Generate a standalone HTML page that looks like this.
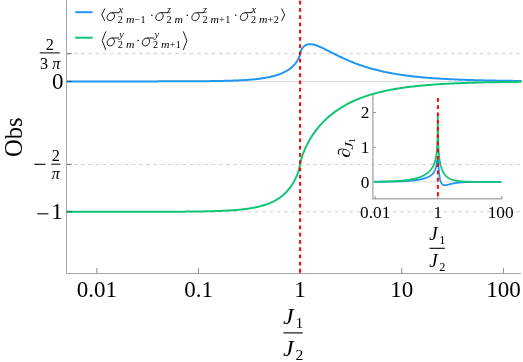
<!DOCTYPE html>
<html><head><meta charset="utf-8"><title>plot</title>
<style>
html,body{margin:0;padding:0;background:#fff;}
body{width:523px;height:362px;overflow:hidden;font-family:"Liberation Serif",serif;}
svg{display:block;will-change:transform;}
text{font-family:"Liberation Serif",serif;fill:#000;}
.i{font-style:italic;}
</style></head><body>
<svg width="523" height="362" viewBox="0 0 523 362">
<rect width="523" height="362" fill="#fff"/>

<line x1="66.5" y1="81.5" x2="520.8" y2="81.5" stroke="#dcdcdc" stroke-width="1"/>
<line x1="66.5" y1="53.7" x2="520.8" y2="53.7" stroke="#cfcfcf" stroke-width="1" stroke-dasharray="3.7 3.553"/>
<line x1="66.5" y1="164.4" x2="520.8" y2="164.4" stroke="#cfcfcf" stroke-width="1" stroke-dasharray="3.7 3.553"/>
<line x1="66.5" y1="211.8" x2="520.8" y2="211.8" stroke="#cfcfcf" stroke-width="1" stroke-dasharray="3.7 3.553"/>
<line x1="373.3" y1="181.9" x2="502" y2="181.9" stroke="#dcdcdc" stroke-width="1"/>
<path d="M66.5,0 V273.5 H520.8" fill="none" stroke="#a6a6a6" stroke-width="1"/>
<line x1="96.9" y1="273.5" x2="96.9" y2="268" stroke="#8c8c8c" stroke-width="1"/>
<line x1="198.5" y1="273.5" x2="198.5" y2="268" stroke="#8c8c8c" stroke-width="1"/>
<line x1="300.1" y1="273.5" x2="300.1" y2="268" stroke="#8c8c8c" stroke-width="1"/>
<line x1="401.7" y1="273.5" x2="401.7" y2="268" stroke="#8c8c8c" stroke-width="1"/>
<line x1="503.4" y1="273.5" x2="503.4" y2="268" stroke="#8c8c8c" stroke-width="1"/>
<path d="M372.9,94.8 V198.8 H502.2" fill="none" stroke="#b0b0b0" stroke-width="1.5"/>
<line x1="373.3" y1="112.5" x2="375.8" y2="112.5" stroke="#8c8c8c" stroke-width="1"/>
<line x1="373.3" y1="147.3" x2="375.8" y2="147.3" stroke="#8c8c8c" stroke-width="1"/>
<line x1="373.3" y1="182.0" x2="375.8" y2="182.0" stroke="#8c8c8c" stroke-width="1"/>
<line x1="375.2" y1="199" x2="375.2" y2="196.2" stroke="#8c8c8c" stroke-width="1"/>
<line x1="437.8" y1="199" x2="437.8" y2="196.2" stroke="#8c8c8c" stroke-width="1"/>
<line x1="501.8" y1="199" x2="501.8" y2="196.2" stroke="#8c8c8c" stroke-width="1"/>
<path d="M66.50,81.40 L67.49,81.40 L68.48,81.40 L69.47,81.40 L70.47,81.40 L71.46,81.40 L72.45,81.40 L73.44,81.40 L74.43,81.40 L75.42,81.40 L76.42,81.40 L77.41,81.40 L78.40,81.40 L79.39,81.40 L80.38,81.40 L81.37,81.40 L82.36,81.40 L83.36,81.40 L84.35,81.40 L85.34,81.40 L86.33,81.40 L87.32,81.40 L88.31,81.40 L89.30,81.40 L90.30,81.40 L91.29,81.40 L92.28,81.40 L93.27,81.40 L94.26,81.40 L95.25,81.40 L96.25,81.40 L97.24,81.40 L98.23,81.40 L99.22,81.40 L100.21,81.40 L101.20,81.40 L102.19,81.40 L103.19,81.40 L104.18,81.40 L105.17,81.40 L106.16,81.40 L107.15,81.40 L108.14,81.40 L109.13,81.40 L110.13,81.40 L111.12,81.40 L112.11,81.40 L113.10,81.40 L114.09,81.40 L115.08,81.40 L116.08,81.40 L117.07,81.40 L118.06,81.40 L119.05,81.40 L120.04,81.40 L121.03,81.40 L122.02,81.39 L123.02,81.39 L124.01,81.39 L125.00,81.39 L125.99,81.39 L126.98,81.39 L127.97,81.39 L128.96,81.39 L129.96,81.39 L130.95,81.39 L131.94,81.39 L132.93,81.39 L133.92,81.39 L134.91,81.39 L135.91,81.39 L136.90,81.39 L137.89,81.39 L138.88,81.39 L139.87,81.39 L140.86,81.39 L141.85,81.39 L142.85,81.39 L143.84,81.39 L144.83,81.39 L145.82,81.39 L146.81,81.38 L147.80,81.38 L148.79,81.38 L149.79,81.38 L150.78,81.38 L151.77,81.38 L152.76,81.38 L153.75,81.38 L154.74,81.38 L155.74,81.38 L156.73,81.38 L157.72,81.37 L158.71,81.37 L159.70,81.37 L160.69,81.37 L161.68,81.37 L162.68,81.37 L163.67,81.37 L164.66,81.36 L165.65,81.36 L166.64,81.36 L167.63,81.36 L168.62,81.36 L169.62,81.36 L170.61,81.35 L171.60,81.35 L172.59,81.35 L173.58,81.35 L174.57,81.34 L175.57,81.34 L176.56,81.34 L177.55,81.34 L178.54,81.33 L179.53,81.33 L180.52,81.33 L181.51,81.32 L182.51,81.32 L183.50,81.32 L184.49,81.31 L185.48,81.31 L186.47,81.31 L187.46,81.30 L188.45,81.30 L189.45,81.29 L190.44,81.29 L191.43,81.28 L192.42,81.28 L193.41,81.27 L194.40,81.26 L195.40,81.26 L196.39,81.25 L197.38,81.24 L198.37,81.24 L199.36,81.23 L200.35,81.22 L201.34,81.21 L202.34,81.21 L203.33,81.20 L204.32,81.19 L205.31,81.18 L206.30,81.17 L207.29,81.16 L208.28,81.15 L209.28,81.13 L210.27,81.12 L211.26,81.11 L212.25,81.09 L213.24,81.08 L214.23,81.07 L215.23,81.05 L216.22,81.03 L217.21,81.02 L218.20,81.00 L219.19,80.98 L220.18,80.96 L221.17,80.94 L222.17,80.92 L223.16,80.90 L224.15,80.87 L225.14,80.85 L226.13,80.82 L227.12,80.80 L228.12,80.77 L229.11,80.74 L230.10,80.71 L231.09,80.68 L232.08,80.64 L233.07,80.61 L234.06,80.57 L235.06,80.53 L236.05,80.49 L237.04,80.45 L238.03,80.41 L239.02,80.36 L240.01,80.31 L241.00,80.26 L242.00,80.21 L242.99,80.15 L243.98,80.09 L244.97,80.03 L245.96,79.97 L246.95,79.90 L247.95,79.83 L248.94,79.76 L249.93,79.68 L250.92,79.60 L251.91,79.51 L252.90,79.42 L253.89,79.33 L254.89,79.23 L255.88,79.12 L256.87,79.02 L257.86,78.90 L258.85,78.78 L259.84,78.66 L260.83,78.52 L261.83,78.39 L262.82,78.24 L263.81,78.09 L264.80,77.93 L265.79,77.76 L266.78,77.58 L267.78,77.39 L268.77,77.19 L269.76,76.98 L270.75,76.76 L271.74,76.53 L272.73,76.29 L273.72,76.03 L274.72,75.76 L275.71,75.47 L276.70,75.17 L277.69,74.85 L278.68,74.51 L279.67,74.15 L280.66,73.76 L281.66,73.36 L282.65,72.93 L283.64,72.47 L284.63,71.98 L285.62,71.46 L286.61,70.90 L287.61,70.30 L288.60,69.65 L289.59,68.96 L289.94,68.70 L290.58,68.21 L290.68,68.13 L291.39,67.55 L291.57,67.40 L292.06,66.97 L292.56,66.51 L292.69,66.39 L293.29,65.80 L293.55,65.54 L293.86,65.22 L294.40,64.63 L294.55,64.46 L294.90,64.05 L295.37,63.47 L295.54,63.26 L295.81,62.90 L296.23,62.34 L296.53,61.90 L296.62,61.78 L296.98,61.23 L297.31,60.69 L297.52,60.34 L297.62,60.17 L297.91,59.65 L298.17,59.15 L298.41,58.67 L298.51,58.46 L298.63,58.21 L298.83,57.76 L299.01,57.33 L299.17,56.93 L299.32,56.54 L299.45,56.18 L299.50,56.03 L299.56,55.84 L299.66,55.53 L299.75,55.24 L299.83,54.98 L299.89,54.74 L299.94,54.53 L299.98,54.35 L300.02,54.19 L300.05,54.06 L300.07,53.95 L300.08,53.87 L300.09,53.81 L300.10,53.76 L300.10,53.74 L300.10,53.73 L300.10,53.73 L300.10,53.73 L300.10,53.72 L300.10,53.69 L300.11,53.65 L300.12,53.59 L300.13,53.51 L300.15,53.40 L300.18,53.27 L300.22,53.11 L300.26,52.93 L300.31,52.72 L300.37,52.49 L300.45,52.23 L300.49,52.08 L300.54,51.95 L300.64,51.65 L300.75,51.33 L300.88,50.99 L301.03,50.64 L301.19,50.27 L301.37,49.89 L301.49,49.65 L301.57,49.49 L301.79,49.09 L302.03,48.69 L302.29,48.29 L302.48,48.03 L302.58,47.89 L302.89,47.49 L303.22,47.10 L303.47,46.84 L303.58,46.72 L303.97,46.36 L304.39,46.01 L304.46,45.95 L304.83,45.69 L305.30,45.39 L305.45,45.30 L305.80,45.11 L306.34,44.87 L306.44,44.83 L306.91,44.66 L307.44,44.50 L307.51,44.48 L308.14,44.35 L308.43,44.30 L308.81,44.25 L309.42,44.21 L309.52,44.20 L310.26,44.20 L310.41,44.20 L311.40,44.27 L312.39,44.40 L313.38,44.59 L314.38,44.83 L315.37,45.11 L316.36,45.43 L317.35,45.78 L318.34,46.16 L319.33,46.56 L320.32,46.99 L321.32,47.43 L322.31,47.88 L323.30,48.35 L324.29,48.83 L325.28,49.31 L326.27,49.80 L327.27,50.30 L328.26,50.80 L329.25,51.30 L330.24,51.81 L331.23,52.31 L332.22,52.82 L333.21,53.32 L334.21,53.82 L335.20,54.32 L336.19,54.82 L337.18,55.31 L338.17,55.80 L339.16,56.28 L340.15,56.76 L341.15,57.23 L342.14,57.70 L343.13,58.16 L344.12,58.62 L345.11,59.07 L346.10,59.52 L347.10,59.95 L348.09,60.38 L349.08,60.81 L350.07,61.23 L351.06,61.64 L352.05,62.04 L353.04,62.44 L354.04,62.83 L355.03,63.22 L356.02,63.60 L357.01,63.97 L358.00,64.33 L358.99,64.69 L359.98,65.04 L360.98,65.39 L361.97,65.73 L362.96,66.06 L363.95,66.38 L364.94,66.70 L365.93,67.02 L366.93,67.32 L367.92,67.63 L368.91,67.92 L369.90,68.21 L370.89,68.49 L371.88,68.77 L372.87,69.04 L373.87,69.31 L374.86,69.57 L375.85,69.83 L376.84,70.08 L377.83,70.33 L378.82,70.57 L379.82,70.80 L380.81,71.03 L381.80,71.26 L382.79,71.48 L383.78,71.70 L384.77,71.91 L385.76,72.12 L386.76,72.32 L387.75,72.52 L388.74,72.71 L389.73,72.90 L390.72,73.09 L391.71,73.27 L392.70,73.45 L393.70,73.63 L394.69,73.80 L395.68,73.96 L396.67,74.13 L397.66,74.29 L398.65,74.44 L399.65,74.60 L400.64,74.75 L401.63,74.89 L402.62,75.04 L403.61,75.18 L404.60,75.32 L405.59,75.45 L406.59,75.58 L407.58,75.71 L408.57,75.84 L409.56,75.96 L410.55,76.08 L411.54,76.20 L412.53,76.31 L413.53,76.42 L414.52,76.53 L415.51,76.64 L416.50,76.75 L417.49,76.85 L418.48,76.95 L419.48,77.05 L420.47,77.15 L421.46,77.24 L422.45,77.33 L423.44,77.42 L424.43,77.51 L425.42,77.60 L426.42,77.68 L427.41,77.76 L428.40,77.84 L429.39,77.92 L430.38,78.00 L431.37,78.08 L432.36,78.15 L433.36,78.22 L434.35,78.29 L435.34,78.36 L436.33,78.43 L437.32,78.49 L438.31,78.56 L439.31,78.62 L440.30,78.68 L441.29,78.74 L442.28,78.80 L443.27,78.86 L444.26,78.92 L445.25,78.97 L446.25,79.03 L447.24,79.08 L448.23,79.13 L449.22,79.18 L450.21,79.23 L451.20,79.28 L452.19,79.32 L453.19,79.37 L454.18,79.42 L455.17,79.46 L456.16,79.50 L457.15,79.55 L458.14,79.59 L459.14,79.63 L460.13,79.67 L461.12,79.70 L462.11,79.74 L463.10,79.78 L464.09,79.81 L465.08,79.85 L466.08,79.88 L467.07,79.92 L468.06,79.95 L469.05,79.98 L470.04,80.01 L471.03,80.05 L472.02,80.08 L473.02,80.11 L474.01,80.13 L475.00,80.16 L475.99,80.19 L476.98,80.22 L477.97,80.24 L478.97,80.27 L479.96,80.29 L480.95,80.32 L481.94,80.34 L482.93,80.37 L483.92,80.39 L484.91,80.41 L485.91,80.43 L486.90,80.45 L487.89,80.48 L488.88,80.50 L489.87,80.52 L490.86,80.54 L491.85,80.55 L492.85,80.57 L493.84,80.59 L494.83,80.61 L495.82,80.63 L496.81,80.64 L497.80,80.66 L498.80,80.68 L499.79,80.69 L500.78,80.71 L501.77,80.73 L502.76,80.74 L503.75,80.75 L504.74,80.77 L505.74,80.78 L506.73,80.80 L507.72,80.81 L508.71,80.82 L509.70,80.84 L510.69,80.85 L511.68,80.86 L512.68,80.87 L513.67,80.88 L514.66,80.90 L515.65,80.91 L516.64,80.92 L517.63,80.93 L518.63,80.94 L519.62,80.95 L520.61,80.96 L521.60,80.97" fill="none" stroke="#2196f3" stroke-width="2" stroke-linejoin="round"/>
<path d="M66.50,211.80 L67.49,211.80 L68.48,211.80 L69.47,211.80 L70.47,211.80 L71.46,211.80 L72.45,211.80 L73.44,211.80 L74.43,211.80 L75.42,211.80 L76.42,211.80 L77.41,211.80 L78.40,211.80 L79.39,211.80 L80.38,211.80 L81.37,211.80 L82.36,211.80 L83.36,211.80 L84.35,211.80 L85.34,211.80 L86.33,211.80 L87.32,211.80 L88.31,211.80 L89.30,211.80 L90.30,211.80 L91.29,211.80 L92.28,211.80 L93.27,211.80 L94.26,211.80 L95.25,211.80 L96.25,211.80 L97.24,211.80 L98.23,211.80 L99.22,211.80 L100.21,211.80 L101.20,211.80 L102.19,211.80 L103.19,211.80 L104.18,211.80 L105.17,211.80 L106.16,211.80 L107.15,211.79 L108.14,211.79 L109.13,211.79 L110.13,211.79 L111.12,211.79 L112.11,211.79 L113.10,211.79 L114.09,211.79 L115.08,211.79 L116.08,211.79 L117.07,211.79 L118.06,211.79 L119.05,211.79 L120.04,211.79 L121.03,211.79 L122.02,211.79 L123.02,211.79 L124.01,211.79 L125.00,211.79 L125.99,211.79 L126.98,211.79 L127.97,211.79 L128.96,211.79 L129.96,211.79 L130.95,211.78 L131.94,211.78 L132.93,211.78 L133.92,211.78 L134.91,211.78 L135.91,211.78 L136.90,211.78 L137.89,211.78 L138.88,211.78 L139.87,211.78 L140.86,211.78 L141.85,211.77 L142.85,211.77 L143.84,211.77 L144.83,211.77 L145.82,211.77 L146.81,211.77 L147.80,211.77 L148.79,211.77 L149.79,211.76 L150.78,211.76 L151.77,211.76 L152.76,211.76 L153.75,211.76 L154.74,211.76 L155.74,211.75 L156.73,211.75 L157.72,211.75 L158.71,211.75 L159.70,211.74 L160.69,211.74 L161.68,211.74 L162.68,211.74 L163.67,211.73 L164.66,211.73 L165.65,211.73 L166.64,211.72 L167.63,211.72 L168.62,211.72 L169.62,211.71 L170.61,211.71 L171.60,211.70 L172.59,211.70 L173.58,211.69 L174.57,211.69 L175.57,211.68 L176.56,211.68 L177.55,211.67 L178.54,211.67 L179.53,211.66 L180.52,211.66 L181.51,211.65 L182.51,211.64 L183.50,211.63 L184.49,211.63 L185.48,211.62 L186.47,211.61 L187.46,211.60 L188.45,211.59 L189.45,211.58 L190.44,211.57 L191.43,211.56 L192.42,211.55 L193.41,211.54 L194.40,211.53 L195.40,211.52 L196.39,211.50 L197.38,211.49 L198.37,211.48 L199.36,211.46 L200.35,211.44 L201.34,211.43 L202.34,211.41 L203.33,211.39 L204.32,211.37 L205.31,211.35 L206.30,211.33 L207.29,211.31 L208.28,211.29 L209.28,211.27 L210.27,211.24 L211.26,211.22 L212.25,211.19 L213.24,211.16 L214.23,211.13 L215.23,211.10 L216.22,211.07 L217.21,211.04 L218.20,211.00 L219.19,210.96 L220.18,210.92 L221.17,210.88 L222.17,210.84 L223.16,210.80 L224.15,210.75 L225.14,210.70 L226.13,210.65 L227.12,210.60 L228.12,210.54 L229.11,210.48 L230.10,210.42 L231.09,210.36 L232.08,210.29 L233.07,210.22 L234.06,210.15 L235.06,210.07 L236.05,209.99 L237.04,209.91 L238.03,209.82 L239.02,209.73 L240.01,209.63 L241.00,209.53 L242.00,209.43 L242.99,209.32 L243.98,209.20 L244.97,209.08 L245.96,208.95 L246.95,208.82 L247.95,208.68 L248.94,208.53 L249.93,208.38 L250.92,208.22 L251.91,208.05 L252.90,207.87 L253.89,207.69 L254.89,207.49 L255.88,207.29 L256.87,207.08 L257.86,206.85 L258.85,206.62 L259.84,206.37 L260.83,206.11 L261.83,205.84 L262.82,205.56 L263.81,205.26 L264.80,204.95 L265.79,204.62 L266.78,204.27 L267.78,203.91 L268.77,203.52 L269.76,203.12 L270.75,202.70 L271.74,202.25 L272.73,201.79 L273.72,201.29 L274.72,200.77 L275.71,200.23 L276.70,199.65 L277.69,199.04 L278.68,198.40 L279.67,197.72 L280.66,197.00 L281.66,196.25 L282.65,195.44 L283.64,194.59 L284.63,193.69 L285.62,192.73 L286.61,191.71 L287.61,190.63 L288.60,189.47 L289.59,188.24 L289.94,187.78 L290.58,186.91 L290.68,186.77 L291.39,185.76 L291.57,185.49 L292.06,184.75 L292.56,183.95 L292.69,183.74 L293.29,182.74 L293.55,182.29 L293.86,181.74 L294.40,180.76 L294.55,180.48 L294.90,179.79 L295.37,178.84 L295.54,178.49 L295.81,177.90 L296.23,176.98 L296.53,176.29 L296.62,176.08 L296.98,175.21 L297.31,174.36 L297.52,173.81 L297.62,173.54 L297.91,172.75 L298.17,171.99 L298.41,171.26 L298.51,170.94 L298.63,170.57 L298.83,169.91 L299.01,169.29 L299.17,168.70 L299.32,168.15 L299.45,167.64 L299.50,167.43 L299.56,167.17 L299.66,166.74 L299.75,166.35 L299.83,166.00 L299.89,165.69 L299.94,165.42 L299.98,165.18 L300.02,164.98 L300.05,164.81 L300.07,164.68 L300.08,164.58 L300.09,164.51 L300.10,164.46 L300.10,164.43 L300.10,164.42 L300.10,164.42 L300.10,164.41 L300.10,164.40 L300.10,164.37 L300.11,164.32 L300.12,164.25 L300.13,164.15 L300.15,164.02 L300.18,163.85 L300.22,163.65 L300.26,163.41 L300.31,163.14 L300.37,162.82 L300.45,162.47 L300.49,162.26 L300.54,162.08 L300.64,161.64 L300.75,161.16 L300.88,160.65 L301.03,160.09 L301.19,159.49 L301.37,158.85 L301.49,158.45 L301.57,158.17 L301.79,157.45 L302.03,156.69 L302.29,155.90 L302.48,155.36 L302.58,155.06 L302.89,154.19 L303.22,153.29 L303.47,152.64 L303.58,152.34 L303.97,151.37 L304.39,150.36 L304.46,150.18 L304.83,149.32 L305.30,148.25 L305.45,147.92 L305.80,147.16 L306.34,146.03 L306.44,145.82 L306.91,144.88 L307.44,143.84 L307.51,143.70 L308.14,142.50 L308.43,141.98 L308.81,141.28 L309.42,140.21 L309.52,140.04 L310.26,138.78 L310.41,138.53 L311.40,136.93 L312.39,135.40 L313.38,133.93 L314.38,132.52 L315.37,131.17 L316.36,129.86 L317.35,128.60 L318.34,127.39 L319.33,126.22 L320.32,125.08 L321.32,123.99 L322.31,122.92 L323.30,121.89 L324.29,120.90 L325.28,119.93 L326.27,118.99 L327.27,118.08 L328.26,117.19 L329.25,116.33 L330.24,115.50 L331.23,114.68 L332.22,113.89 L333.21,113.12 L334.21,112.37 L335.20,111.64 L336.19,110.93 L337.18,110.24 L338.17,109.57 L339.16,108.91 L340.15,108.27 L341.15,107.65 L342.14,107.04 L343.13,106.45 L344.12,105.87 L345.11,105.31 L346.10,104.76 L347.10,104.22 L348.09,103.70 L349.08,103.19 L350.07,102.69 L351.06,102.21 L352.05,101.73 L353.04,101.27 L354.04,100.82 L355.03,100.38 L356.02,99.95 L357.01,99.53 L358.00,99.12 L358.99,98.72 L359.98,98.32 L360.98,97.94 L361.97,97.57 L362.96,97.20 L363.95,96.85 L364.94,96.50 L365.93,96.16 L366.93,95.83 L367.92,95.50 L368.91,95.19 L369.90,94.88 L370.89,94.57 L371.88,94.28 L372.87,93.99 L373.87,93.71 L374.86,93.43 L375.85,93.16 L376.84,92.90 L377.83,92.64 L378.82,92.39 L379.82,92.14 L380.81,91.90 L381.80,91.67 L382.79,91.44 L383.78,91.21 L384.77,90.99 L385.76,90.78 L386.76,90.57 L387.75,90.37 L388.74,90.17 L389.73,89.97 L390.72,89.78 L391.71,89.59 L392.70,89.41 L393.70,89.23 L394.69,89.06 L395.68,88.89 L396.67,88.72 L397.66,88.56 L398.65,88.40 L399.65,88.24 L400.64,88.09 L401.63,87.94 L402.62,87.79 L403.61,87.65 L404.60,87.51 L405.59,87.38 L406.59,87.24 L407.58,87.11 L408.57,86.99 L409.56,86.86 L410.55,86.74 L411.54,86.62 L412.53,86.50 L413.53,86.39 L414.52,86.28 L415.51,86.17 L416.50,86.06 L417.49,85.96 L418.48,85.86 L419.48,85.76 L420.47,85.66 L421.46,85.57 L422.45,85.48 L423.44,85.39 L424.43,85.30 L425.42,85.21 L426.42,85.13 L427.41,85.04 L428.40,84.96 L429.39,84.88 L430.38,84.80 L431.37,84.73 L432.36,84.66 L433.36,84.58 L434.35,84.51 L435.34,84.44 L436.33,84.38 L437.32,84.31 L438.31,84.24 L439.31,84.18 L440.30,84.12 L441.29,84.06 L442.28,84.00 L443.27,83.94 L444.26,83.89 L445.25,83.83 L446.25,83.78 L447.24,83.72 L448.23,83.67 L449.22,83.62 L450.21,83.57 L451.20,83.52 L452.19,83.48 L453.19,83.43 L454.18,83.39 L455.17,83.34 L456.16,83.30 L457.15,83.26 L458.14,83.21 L459.14,83.17 L460.13,83.13 L461.12,83.10 L462.11,83.06 L463.10,83.02 L464.09,82.99 L465.08,82.95 L466.08,82.92 L467.07,82.88 L468.06,82.85 L469.05,82.82 L470.04,82.79 L471.03,82.75 L472.02,82.72 L473.02,82.70 L474.01,82.67 L475.00,82.64 L475.99,82.61 L476.98,82.58 L477.97,82.56 L478.97,82.53 L479.96,82.51 L480.95,82.48 L481.94,82.46 L482.93,82.43 L483.92,82.41 L484.91,82.39 L485.91,82.37 L486.90,82.35 L487.89,82.32 L488.88,82.30 L489.87,82.28 L490.86,82.26 L491.85,82.25 L492.85,82.23 L493.84,82.21 L494.83,82.19 L495.82,82.17 L496.81,82.16 L497.80,82.14 L498.80,82.12 L499.79,82.11 L500.78,82.09 L501.77,82.08 L502.76,82.06 L503.75,82.05 L504.74,82.03 L505.74,82.02 L506.73,82.00 L507.72,81.99 L508.71,81.98 L509.70,81.96 L510.69,81.95 L511.68,81.94 L512.68,81.93 L513.67,81.92 L514.66,81.90 L515.65,81.89 L516.64,81.88 L517.63,81.87 L518.63,81.86 L519.62,81.85 L520.61,81.84 L521.60,81.83" fill="none" stroke="#10c574" stroke-width="2" stroke-linejoin="round"/>
<path d="M374.26,181.82 L374.69,181.82 L375.11,181.81 L375.54,181.81 L375.96,181.81 L376.39,181.81 L376.81,181.80 L377.24,181.80 L377.66,181.80 L378.09,181.79 L378.51,181.79 L378.94,181.79 L379.36,181.78 L379.79,181.78 L380.21,181.77 L380.64,181.77 L381.06,181.77 L381.49,181.76 L381.91,181.76 L382.34,181.75 L382.76,181.75 L383.19,181.74 L383.61,181.74 L384.04,181.73 L384.46,181.73 L384.89,181.72 L385.31,181.72 L385.74,181.71 L386.16,181.71 L386.59,181.70 L387.01,181.69 L387.44,181.69 L387.86,181.68 L388.29,181.67 L388.71,181.66 L389.14,181.66 L389.56,181.65 L389.99,181.64 L390.41,181.63 L390.84,181.63 L391.26,181.62 L391.69,181.61 L392.11,181.60 L392.54,181.59 L392.96,181.58 L393.39,181.57 L393.81,181.56 L394.24,181.55 L394.66,181.54 L395.09,181.52 L395.51,181.51 L395.94,181.50 L396.36,181.49 L396.79,181.47 L397.21,181.46 L397.64,181.45 L398.06,181.43 L398.49,181.42 L398.91,181.40 L399.34,181.39 L399.76,181.37 L400.19,181.35 L400.61,181.33 L401.04,181.32 L401.46,181.30 L401.89,181.28 L402.31,181.26 L402.74,181.24 L403.16,181.22 L403.59,181.20 L404.01,181.17 L404.44,181.15 L404.86,181.13 L405.29,181.10 L405.71,181.08 L406.14,181.05 L406.56,181.02 L406.99,180.99 L407.41,180.96 L407.84,180.93 L408.26,180.90 L408.69,180.87 L409.11,180.84 L409.54,180.80 L409.96,180.77 L410.39,180.73 L410.81,180.69 L411.24,180.65 L411.66,180.61 L412.09,180.57 L412.51,180.53 L412.94,180.48 L413.36,180.44 L413.79,180.39 L414.21,180.34 L414.64,180.29 L415.06,180.24 L415.49,180.18 L415.91,180.13 L416.34,180.07 L416.76,180.01 L417.19,179.94 L417.61,179.88 L418.04,179.81 L418.46,179.74 L418.89,179.67 L419.31,179.59 L419.74,179.51 L420.16,179.43 L420.59,179.34 L421.01,179.26 L421.44,179.16 L421.86,179.07 L422.29,178.97 L422.71,178.86 L423.14,178.76 L423.56,178.64 L423.99,178.52 L424.41,178.40 L424.84,178.27 L425.26,178.13 L425.69,177.99 L426.11,177.84 L426.54,177.68 L426.96,177.51 L427.39,177.34 L427.81,177.15 L428.24,176.96 L428.66,176.75 L429.09,176.52 L429.51,176.28 L429.94,176.03 L430.36,175.75 L430.79,175.46 L431.21,175.14 L431.64,174.79 L432.06,174.41 L432.49,173.98 L432.91,173.52 L433.11,173.29 L433.34,173.00 L433.34,172.99 L433.56,172.70 L433.76,172.40 L433.77,172.39 L433.98,172.06 L434.18,171.73 L434.19,171.73 L434.38,171.39 L434.56,171.04 L434.61,170.94 L434.74,170.67 L434.92,170.29 L435.04,170.01 L435.08,169.90 L435.24,169.49 L435.40,169.07 L435.46,168.88 L435.54,168.63 L435.68,168.18 L435.82,167.71 L435.89,167.46 L435.95,167.22 L436.07,166.72 L436.19,166.19 L436.30,165.64 L436.31,165.59 L436.41,165.07 L436.51,164.48 L436.61,163.86 L436.70,163.22 L436.74,162.93 L436.79,162.54 L436.87,161.84 L436.95,161.11 L437.02,160.35 L437.09,160.32 L437.15,160.32 L437.16,160.32 L437.21,160.32 L437.27,160.32 L437.32,160.32 L437.37,160.32 L437.42,160.32 L437.46,160.32 L437.50,160.32 L437.54,160.32 L437.57,160.32 L437.59,160.32 L437.60,160.32 L437.63,160.32 L437.65,160.32 L437.67,160.32 L437.69,160.32 L437.71,160.32 L437.73,160.32 L437.74,160.32 L437.75,160.32 L437.76,160.32 L437.77,160.32 L437.78,160.32 L437.78,160.32 L437.79,160.32 L437.79,160.32 L437.80,160.32 L437.80,160.32 L437.80,160.32 L437.80,160.32 L437.80,160.32 L437.80,160.32 L437.80,160.32 L437.80,160.32 L437.80,160.32 L437.80,160.32 L437.80,160.32 L437.80,160.32 L437.81,160.32 L437.81,160.32 L437.82,160.32 L437.82,160.32 L437.83,160.32 L437.84,160.32 L437.85,160.32 L437.86,160.32 L437.87,160.32 L437.89,160.32 L437.91,160.32 L437.93,160.32 L437.95,160.32 L437.97,160.32 L438.00,160.32 L438.01,160.32 L438.03,160.32 L438.06,160.32 L438.10,160.32 L438.14,160.32 L438.18,160.32 L438.23,160.32 L438.28,161.08 L438.33,162.39 L438.39,163.65 L438.44,164.68 L438.45,164.87 L438.51,166.05 L438.58,167.20 L438.65,168.30 L438.73,169.36 L438.81,170.39 L438.86,170.95 L438.90,171.38 L438.99,172.33 L439.09,173.25 L439.19,174.13 L439.29,174.89 L439.30,174.97 L439.41,175.78 L439.53,176.55 L439.65,177.29 L439.71,177.63 L439.78,177.99 L439.92,178.66 L440.06,179.29 L440.14,179.62 L440.20,179.88 L440.36,180.44 L440.52,180.97 L440.56,181.11 L440.68,181.46 L440.86,181.92 L440.99,182.23 L441.04,182.34 L441.22,182.73 L441.41,183.08 L441.42,183.09 L441.62,183.42 L441.83,183.71 L441.84,183.73 L442.04,183.98 L442.26,184.22 L442.26,184.22 L442.50,184.43 L442.69,184.57 L443.11,184.83 L443.54,185.01 L443.96,185.13 L444.39,185.19 L444.81,185.22 L445.24,185.21 L445.66,185.17 L446.09,185.12 L446.51,185.04 L446.94,184.96 L447.36,184.87 L447.79,184.77 L448.21,184.67 L448.64,184.56 L449.06,184.45 L449.49,184.34 L449.91,184.24 L450.34,184.13 L450.76,184.03 L451.19,183.93 L451.61,183.83 L452.04,183.73 L452.46,183.64 L452.89,183.55 L453.31,183.46 L453.74,183.38 L454.16,183.30 L454.59,183.23 L455.01,183.16 L455.44,183.09 L455.86,183.02 L456.29,182.96 L456.71,182.90 L457.14,182.84 L457.56,182.79 L457.99,182.74 L458.41,182.69 L458.84,182.65 L459.26,182.60 L459.69,182.56 L460.11,182.52 L460.54,182.49 L460.96,182.45 L461.39,182.42 L461.81,182.39 L462.24,182.36 L462.66,182.34 L463.09,182.31 L463.51,182.29 L463.94,182.26 L464.36,182.24 L464.79,182.22 L465.21,182.20 L465.64,182.18 L466.06,182.17 L466.49,182.15 L466.91,182.14 L467.34,182.12 L467.76,182.11 L468.19,182.10 L468.61,182.08 L469.04,182.07 L469.46,182.06 L469.89,182.05 L470.31,182.04 L470.74,182.04 L471.16,182.03 L471.59,182.02 L472.01,182.01 L472.44,182.01 L472.86,182.00 L473.29,181.99 L473.71,181.99 L474.14,181.98 L474.56,181.98 L474.99,181.97 L475.41,181.97 L475.84,181.96 L476.26,181.96 L476.69,181.96 L477.11,181.95 L477.54,181.95 L477.96,181.95 L478.39,181.94 L478.81,181.94 L479.24,181.94 L479.66,181.94 L480.09,181.93 L480.51,181.93 L480.94,181.93 L481.36,181.93 L481.79,181.93 L482.21,181.93 L482.64,181.92 L483.06,181.92 L483.49,181.92 L483.91,181.92 L484.34,181.92 L484.76,181.92 L485.19,181.92 L485.61,181.92 L486.04,181.91 L486.46,181.91 L486.89,181.91 L487.31,181.91 L487.74,181.91 L488.16,181.91 L488.59,181.91 L489.01,181.91 L489.44,181.91 L489.86,181.91 L490.29,181.91 L490.71,181.91 L491.14,181.91 L491.56,181.91 L491.99,181.91 L492.41,181.91 L492.84,181.91 L493.26,181.90 L493.69,181.90 L494.11,181.90 L494.54,181.90 L494.96,181.90 L495.39,181.90 L495.81,181.90 L496.24,181.90 L496.66,181.90 L497.09,181.90 L497.51,181.90 L497.94,181.90 L498.36,181.90 L498.79,181.90 L499.21,181.90 L499.64,181.90 L500.06,181.90 L500.49,181.90 L500.91,181.90 L501.34,181.90" fill="none" stroke="#2196f3" stroke-width="1.8" stroke-linejoin="round"/>
<path d="M374.26,181.74 L374.69,181.73 L375.11,181.73 L375.54,181.72 L375.96,181.72 L376.39,181.71 L376.81,181.70 L377.24,181.70 L377.66,181.69 L378.09,181.68 L378.51,181.68 L378.94,181.67 L379.36,181.66 L379.79,181.66 L380.21,181.65 L380.64,181.64 L381.06,181.63 L381.49,181.62 L381.91,181.61 L382.34,181.61 L382.76,181.60 L383.19,181.59 L383.61,181.58 L384.04,181.57 L384.46,181.56 L384.89,181.55 L385.31,181.53 L385.74,181.52 L386.16,181.51 L386.59,181.50 L387.01,181.49 L387.44,181.47 L387.86,181.46 L388.29,181.44 L388.71,181.43 L389.14,181.41 L389.56,181.40 L389.99,181.38 L390.41,181.37 L390.84,181.35 L391.26,181.33 L391.69,181.31 L392.11,181.30 L392.54,181.28 L392.96,181.26 L393.39,181.24 L393.81,181.22 L394.24,181.19 L394.66,181.17 L395.09,181.15 L395.51,181.12 L395.94,181.10 L396.36,181.07 L396.79,181.05 L397.21,181.02 L397.64,180.99 L398.06,180.96 L398.49,180.93 L398.91,180.90 L399.34,180.87 L399.76,180.84 L400.19,180.80 L400.61,180.77 L401.04,180.73 L401.46,180.70 L401.89,180.66 L402.31,180.62 L402.74,180.58 L403.16,180.54 L403.59,180.49 L404.01,180.45 L404.44,180.40 L404.86,180.35 L405.29,180.30 L405.71,180.25 L406.14,180.20 L406.56,180.15 L406.99,180.09 L407.41,180.03 L407.84,179.97 L408.26,179.91 L408.69,179.85 L409.11,179.78 L409.54,179.71 L409.96,179.64 L410.39,179.57 L410.81,179.49 L411.24,179.42 L411.66,179.34 L412.09,179.25 L412.51,179.17 L412.94,179.08 L413.36,178.99 L413.79,178.89 L414.21,178.79 L414.64,178.69 L415.06,178.59 L415.49,178.48 L415.91,178.37 L416.34,178.25 L416.76,178.13 L417.19,178.01 L417.61,177.88 L418.04,177.75 L418.46,177.61 L418.89,177.47 L419.31,177.32 L419.74,177.17 L420.16,177.01 L420.59,176.84 L421.01,176.67 L421.44,176.49 L421.86,176.31 L422.29,176.11 L422.71,175.91 L423.14,175.71 L423.56,175.49 L423.99,175.26 L424.41,175.03 L424.84,174.78 L425.26,174.53 L425.69,174.26 L426.11,173.98 L426.54,173.68 L426.96,173.37 L427.39,173.05 L427.81,172.71 L428.24,172.35 L428.66,171.97 L429.09,171.57 L429.51,171.15 L429.94,170.70 L430.36,170.22 L430.79,169.70 L431.21,169.15 L431.64,168.56 L432.06,167.92 L432.49,167.23 L432.91,166.46 L433.11,166.10 L433.34,165.63 L433.34,165.63 L433.56,165.15 L433.76,164.70 L433.77,164.67 L433.98,164.17 L434.18,163.66 L434.19,163.65 L434.38,163.14 L434.56,162.61 L434.61,162.46 L434.74,162.06 L434.92,161.50 L435.04,161.09 L435.08,160.93 L435.24,160.34 L435.40,159.74 L435.46,159.47 L435.54,159.12 L435.68,158.49 L435.82,157.84 L435.89,157.49 L435.95,157.17 L436.07,156.49 L436.19,155.78 L436.30,155.06 L436.31,154.99 L436.41,154.31 L436.51,153.54 L436.61,152.75 L436.70,151.93 L436.74,151.57 L436.79,151.09 L436.87,150.22 L436.95,149.33 L437.02,148.40 L437.09,147.44 L437.15,146.44 L437.16,146.28 L437.21,145.41 L437.27,144.34 L437.32,143.23 L437.37,142.08 L437.42,140.87 L437.46,139.62 L437.50,138.31 L437.54,136.94 L437.57,135.51 L437.59,134.59 L437.60,134.00 L437.63,132.42 L437.65,130.75 L437.67,128.99 L437.69,127.12 L437.71,125.13 L437.73,123.02 L437.74,120.75 L437.75,118.31 L437.76,115.78 L437.77,115.78 L437.78,115.78 L437.78,115.78 L437.79,115.78 L437.79,115.78 L437.80,115.78 L437.80,115.78 L437.80,115.78 L437.80,115.78 L437.80,115.78 L437.80,115.78 L437.80,115.78 L437.80,115.78 L437.80,115.78 L437.80,115.78 L437.80,115.78 L437.80,115.78 L437.81,115.78 L437.81,115.78 L437.82,115.78 L437.82,115.78 L437.83,115.78 L437.84,115.85 L437.85,118.53 L437.86,121.02 L437.87,123.33 L437.89,125.50 L437.91,127.55 L437.93,129.48 L437.95,131.31 L437.97,133.05 L438.00,134.70 L438.01,135.32 L438.03,136.29 L438.06,137.81 L438.10,139.26 L438.14,140.66 L438.18,142.01 L438.23,143.31 L438.28,144.57 L438.33,145.78 L438.39,146.95 L438.44,147.91 L438.45,148.09 L438.51,149.20 L438.58,150.27 L438.65,151.31 L438.73,152.32 L438.81,153.31 L438.86,153.85 L438.90,154.27 L438.99,155.20 L439.09,156.11 L439.19,156.99 L439.29,157.78 L439.30,157.86 L439.41,158.70 L439.53,159.52 L439.65,160.32 L439.71,160.70 L439.78,161.10 L439.92,161.87 L440.06,162.61 L440.14,163.01 L440.20,163.33 L440.36,164.04 L440.52,164.73 L440.56,164.92 L440.68,165.40 L440.86,166.06 L440.99,166.53 L441.04,166.69 L441.22,167.32 L441.41,167.91 L441.42,167.92 L441.62,168.51 L441.83,169.08 L441.84,169.12 L442.04,169.64 L442.26,170.18 L442.26,170.18 L442.50,170.71 L442.69,171.13 L443.11,171.97 L443.54,172.73 L443.96,173.42 L444.39,174.05 L444.81,174.62 L445.24,175.14 L445.66,175.62 L446.09,176.06 L446.51,176.46 L446.94,176.83 L447.36,177.17 L447.79,177.49 L448.21,177.79 L448.64,178.06 L449.06,178.31 L449.49,178.55 L449.91,178.77 L450.34,178.97 L450.76,179.16 L451.19,179.33 L451.61,179.50 L452.04,179.65 L452.46,179.79 L452.89,179.93 L453.31,180.05 L453.74,180.17 L454.16,180.28 L454.59,180.38 L455.01,180.47 L455.44,180.56 L455.86,180.65 L456.29,180.72 L456.71,180.80 L457.14,180.87 L457.56,180.93 L457.99,180.99 L458.41,181.05 L458.84,181.10 L459.26,181.15 L459.69,181.19 L460.11,181.24 L460.54,181.28 L460.96,181.32 L461.39,181.35 L461.81,181.39 L462.24,181.42 L462.66,181.45 L463.09,181.47 L463.51,181.50 L463.94,181.53 L464.36,181.55 L464.79,181.57 L465.21,181.59 L465.64,181.61 L466.06,181.63 L466.49,181.64 L466.91,181.66 L467.34,181.67 L467.76,181.69 L468.19,181.70 L468.61,181.71 L469.04,181.72 L469.46,181.73 L469.89,181.74 L470.31,181.75 L470.74,181.76 L471.16,181.77 L471.59,181.78 L472.01,181.79 L472.44,181.79 L472.86,181.80 L473.29,181.81 L473.71,181.81 L474.14,181.82 L474.56,181.82 L474.99,181.83 L475.41,181.83 L475.84,181.84 L476.26,181.84 L476.69,181.84 L477.11,181.85 L477.54,181.85 L477.96,181.85 L478.39,181.86 L478.81,181.86 L479.24,181.86 L479.66,181.86 L480.09,181.87 L480.51,181.87 L480.94,181.87 L481.36,181.87 L481.79,181.87 L482.21,181.87 L482.64,181.88 L483.06,181.88 L483.49,181.88 L483.91,181.88 L484.34,181.88 L484.76,181.88 L485.19,181.88 L485.61,181.88 L486.04,181.89 L486.46,181.89 L486.89,181.89 L487.31,181.89 L487.74,181.89 L488.16,181.89 L488.59,181.89 L489.01,181.89 L489.44,181.89 L489.86,181.89 L490.29,181.89 L490.71,181.89 L491.14,181.89 L491.56,181.89 L491.99,181.89 L492.41,181.89 L492.84,181.89 L493.26,181.90 L493.69,181.90 L494.11,181.90 L494.54,181.90 L494.96,181.90 L495.39,181.90 L495.81,181.90 L496.24,181.90 L496.66,181.90 L497.09,181.90 L497.51,181.90 L497.94,181.90 L498.36,181.90 L498.79,181.90 L499.21,181.90 L499.64,181.90 L500.06,181.90 L500.49,181.90 L500.91,181.90 L501.34,181.90" fill="none" stroke="#10c574" stroke-width="1.8" stroke-linejoin="round"/>
<line x1="67" y1="53.7" x2="71.8" y2="53.7" stroke="#000" stroke-opacity="0.5" stroke-width="1"/>
<line x1="67" y1="81.4" x2="71.8" y2="81.4" stroke="#000" stroke-opacity="0.5" stroke-width="1"/>
<line x1="67" y1="164.4" x2="71.8" y2="164.4" stroke="#000" stroke-opacity="0.5" stroke-width="1"/>
<line x1="67" y1="211.8" x2="71.8" y2="211.8" stroke="#000" stroke-opacity="0.5" stroke-width="1"/>
<line x1="300.1" y1="272.8" x2="300.1" y2="0" stroke="#ff0000" stroke-width="2" stroke-dasharray="3.7 3.55"/>
<line x1="437.9" y1="98.1" x2="437.9" y2="198.8" stroke="#ff0000" stroke-width="2" stroke-dasharray="3.7 3.55"/>
<line x1="75.3" y1="12.2" x2="92.6" y2="12.2" stroke="#2196f3" stroke-width="2"/>
<line x1="75.3" y1="37.7" x2="92.6" y2="37.7" stroke="#10c574" stroke-width="2"/>
<text x="96.9" y="296.6" font-size="23" text-anchor="middle">0.01</text>
<text x="198.5" y="296.6" font-size="23" text-anchor="middle">0.1</text>
<text x="300.1" y="296.6" font-size="23" text-anchor="middle">1</text>
<text x="401.7" y="296.6" font-size="23" text-anchor="middle">10</text>
<text x="503.4" y="296.6" font-size="23" text-anchor="middle">100</text>
<text x="63.6" y="88.8" font-size="23" text-anchor="end">0</text>
<text x="62.7" y="219.3" font-size="23" text-anchor="end">1</text>
<line x1="37.3" y1="213.8" x2="48.4" y2="213.8" stroke="#000" stroke-width="1.1"/>
<text x="49.8" y="50.2" font-size="16.2" text-anchor="middle">2</text>
<line x1="39.7" y1="52.9" x2="59.8" y2="52.9" stroke="#000" stroke-width="1"/>
<text x="39.9" y="68.6" font-size="16.2">3</text>
<text x="52.3" y="68.6" font-size="16.2" class="i">π</text>
<line x1="34.3" y1="164.3" x2="45.5" y2="164.3" stroke="#000" stroke-width="1.1"/>
<text x="55.9" y="161.1" font-size="16.2" text-anchor="middle">2</text>
<line x1="51.2" y1="164.2" x2="60.5" y2="164.2" stroke="#000" stroke-width="1"/>
<text x="55.7" y="179.2" font-size="16.2" text-anchor="middle" class="i">π</text>
<text transform="translate(21.8,137.3) rotate(-90)" font-size="24.5" text-anchor="middle">Obs</text>
<text x="283.1" y="323.7" font-size="23.98" class="i">J</text>
<text x="295.4" y="327.8" font-size="15.6">1</text>
<line x1="283.4" y1="332.9" x2="302.7" y2="332.9" stroke="#000" stroke-width="1.1"/>
<text x="283.1" y="356.3" font-size="23.98" class="i">J</text>
<text x="295.4" y="360.40000000000003" font-size="15.6">2</text>
<text x="429.2" y="240.3" font-size="18.86" class="i">J</text>
<text x="439.2" y="243.5" font-size="12.3">1</text>
<line x1="429.5" y1="248.3" x2="444.8" y2="248.3" stroke="#000" stroke-width="1.1"/>
<text x="429.2" y="267.3" font-size="18.86" class="i">J</text>
<text x="439.2" y="270.5" font-size="12.3">2</text>
<text x="375.2" y="218.2" font-size="17.3" text-anchor="middle">0.01</text>
<text x="437.8" y="218.2" font-size="17.3" text-anchor="middle">1</text>
<text x="500.6" y="218.2" font-size="17.3" text-anchor="middle">100</text>
<text x="369.4" y="118.4" font-size="17.3" text-anchor="end">2</text>
<text x="369.4" y="153.2" font-size="17.3" text-anchor="end">1</text>
<text x="369.4" y="187.9" font-size="17.3" text-anchor="end">0</text>
<g transform="translate(349.5,157.4) rotate(-90)"><text transform="translate(-0.4,0) scale(1.18,1)" font-size="17.3" class="i">∂</text><text transform="translate(8.0,3.0) scale(1.3,1)" font-size="13" class="i">J</text><text x="14.6" y="5.5" font-size="9">1</text></g>
<path d="M118.70,12.70 H112.10 C108.90,12.70 107.10,15.30 107.10,17.60 C107.10,19.50 108.40,20.60 110.10,20.60 C112.70,20.60 114.50,18.10 114.50,15.80 C114.50,14.20 113.70,13.10 112.30,12.70" fill="none" stroke="#111" stroke-width="0.95" stroke-linecap="round"/>
<text x="118.4" y="12.6" font-size="10.2" class="i">x</text>
<text x="117.7" y="23.1" font-size="10.2">2</text>
<text transform="translate(125.89999999999999,23.1) scale(1.15,1)" font-size="10.2" class="i">m</text>
<text x="134.39999999999998" y="23.1" font-size="10.2">−</text>
<text x="140.5" y="23.1" font-size="10.2">1</text>
<path d="M167.40,12.70 H160.80 C157.60,12.70 155.80,15.30 155.80,17.60 C155.80,19.50 157.10,20.60 158.80,20.60 C161.40,20.60 163.20,18.10 163.20,15.80 C163.20,14.20 162.40,13.10 161.00,12.70" fill="none" stroke="#111" stroke-width="0.95" stroke-linecap="round"/>
<text x="167.1" y="12.6" font-size="10.2" class="i">z</text>
<text x="166.39999999999998" y="23.1" font-size="10.2">2</text>
<text transform="translate(174.6,23.1) scale(1.15,1)" font-size="10.2" class="i">m</text>
<path d="M203.40,12.70 H196.80 C193.60,12.70 191.80,15.30 191.80,17.60 C191.80,19.50 193.10,20.60 194.80,20.60 C197.40,20.60 199.20,18.10 199.20,15.80 C199.20,14.20 198.40,13.10 197.00,12.70" fill="none" stroke="#111" stroke-width="0.95" stroke-linecap="round"/>
<text x="203.1" y="12.6" font-size="10.2" class="i">z</text>
<text x="202.39999999999998" y="23.1" font-size="10.2">2</text>
<text transform="translate(210.6,23.1) scale(1.15,1)" font-size="10.2" class="i">m</text>
<text x="219.09999999999997" y="23.1" font-size="10.2">+</text>
<text x="225.2" y="23.1" font-size="10.2">1</text>
<path d="M251.90,12.70 H245.30 C242.10,12.70 240.30,15.30 240.30,17.60 C240.30,19.50 241.60,20.60 243.30,20.60 C245.90,20.60 247.70,18.10 247.70,15.80 C247.70,14.20 246.90,13.10 245.50,12.70" fill="none" stroke="#111" stroke-width="0.95" stroke-linecap="round"/>
<text x="251.6" y="12.6" font-size="10.2" class="i">x</text>
<text x="250.89999999999998" y="23.1" font-size="10.2">2</text>
<text transform="translate(259.1,23.1) scale(1.15,1)" font-size="10.2" class="i">m</text>
<text x="267.6" y="23.1" font-size="10.2">+</text>
<text x="273.70000000000005" y="23.1" font-size="10.2">2</text>
<circle cx="151.9" cy="15.3" r="0.8" fill="#000"/>
<circle cx="187.2" cy="15.3" r="0.8" fill="#000"/>
<circle cx="235.8" cy="15.3" r="0.8" fill="#000"/>
<polyline points="104.8,8.5 101.8,14.8 104.8,21.1" fill="none" stroke="#000" stroke-width="0.9"/>
<polyline points="281.6,8.5 284.6,14.8 281.6,21.1" fill="none" stroke="#000" stroke-width="0.9"/>
<path d="M118.70,38.00 H112.10 C108.90,38.00 107.10,40.60 107.10,42.90 C107.10,44.80 108.40,45.90 110.10,45.90 C112.70,45.90 114.50,43.40 114.50,41.10 C114.50,39.50 113.70,38.40 112.30,38.00" fill="none" stroke="#111" stroke-width="0.95" stroke-linecap="round"/>
<text x="119.3" y="37.5" font-size="10.2" class="i">y</text>
<text x="117.7" y="48.4" font-size="10.2">2</text>
<text transform="translate(125.89999999999999,48.4) scale(1.15,1)" font-size="10.2" class="i">m</text>
<path d="M153.90,38.00 H147.30 C144.10,38.00 142.30,40.60 142.30,42.90 C142.30,44.80 143.60,45.90 145.30,45.90 C147.90,45.90 149.70,43.40 149.70,41.10 C149.70,39.50 148.90,38.40 147.50,38.00" fill="none" stroke="#111" stroke-width="0.95" stroke-linecap="round"/>
<text x="154.5" y="37.5" font-size="10.2" class="i">y</text>
<text x="152.89999999999998" y="48.4" font-size="10.2">2</text>
<text transform="translate(161.1,48.4) scale(1.15,1)" font-size="10.2" class="i">m</text>
<text x="169.59999999999997" y="48.4" font-size="10.2">+</text>
<text x="175.7" y="48.4" font-size="10.2">1</text>
<circle cx="138.2" cy="40.5" r="0.8" fill="#000"/>
<polyline points="105.8,31.4 102.2,40.6 105.8,49.9" fill="none" stroke="#000" stroke-width="0.9"/>
<polyline points="183.3,31.4 186.9,40.6 183.3,49.9" fill="none" stroke="#000" stroke-width="0.9"/>
</svg></body></html>
